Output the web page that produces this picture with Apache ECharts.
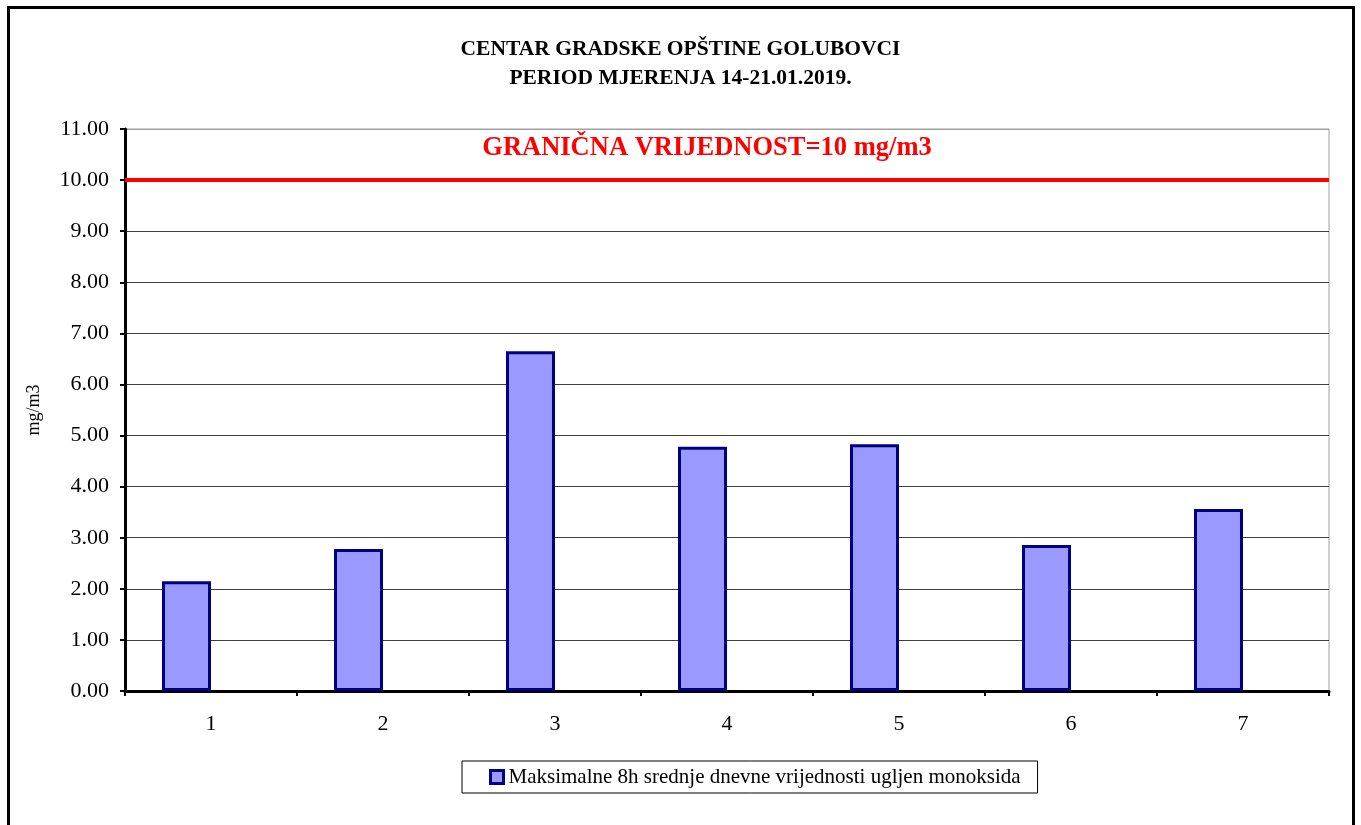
<!DOCTYPE html>
<html>
<head>
<meta charset="utf-8">
<script src="https://cdn.jsdelivr.net/npm/echarts@6/dist/echarts.min.js"></script>
<style>
    html, body { margin: 0; padding: 0; background: #fff; }
    #chart { width: 1361px; height: 825px; }
</style>
</head>
<body>
<div id="chart"></div>
<script>
    var categories = ['1', '2', '3', '4', '5', '6', '7'];
    var coValues = [2.15, 2.78, 6.65, 4.78, 4.83, 2.86, 3.56];
    var emptyValues = [null, null, null, null, null, null, null];
    var limitValue = 10;
    var seriesName = 'Maksimalne 8h srednje dnevne vrijednosti ugljen monoksida';
    var titleLines = ['CENTAR GRADSKE OPŠTINE GOLUBOVCI', 'PERIOD MJERENJA 14-21.01.2019.'];
    var limitLabel = 'GRANIČNA VRIJEDNOST=10 mg/m3';

    var serif = '"Liberation Serif", "DejaVu Serif", serif';

    // gornja linija mreže je siva, ostale tamne
    var gridColors = [];
    for (var i = 0; i <= 11; i++) {
        gridColors.push(i === 11 ? '#a0a0a0' : '#404040');
    }

    var chart = echarts.init(document.getElementById('chart'));

    chart.setOption({
        animation: false,
        title: {
            text: titleLines.join('\n'),
            left: 'center',
            top: 30,
            textStyle: {
                fontFamily: serif,
                fontSize: 21.5,
                fontWeight: 'bold',
                color: '#000',
                lineHeight: 29
            }
        },
        graphic: [{
            type: 'rect',
            silent: true,
            shape: { x: 8.5, y: 7.5, width: 1345, height: 900 },
            style: { fill: 'none', stroke: '#000', lineWidth: 3 }
        }],
        legend: {
            data: [seriesName],
            left: 462,
            top: 761,
            padding: [5, 17, 5, 27],
            borderColor: '#000',
            borderWidth: 1,
            itemWidth: 13,
            itemHeight: 13,
            icon: 'rect',
            itemStyle: { borderWidth: 3, borderColor: '#000080' },
            textStyle: {
                fontFamily: serif,
                fontSize: 21,
                lineHeight: 22,
                color: '#000'
            }
        },
        grid: {
            left: 125,
            right: 32,
            top: 129,
            bottom: 134,
            show: true,
            borderColor: '#a0a0a0',
            borderWidth: 1
        },
        xAxis: {
            type: 'category',
            data: categories,
            boundaryGap: true,
            axisLine: { lineStyle: { color: '#000', width: 3 } },
            axisTick: { show: true, length: 5, lineStyle: { color: '#000', width: 2 } },
            axisLabel: {
                fontFamily: serif,
                fontSize: 22,
                color: '#000',
                margin: 22
            }
        },
        yAxis: {
            type: 'value',
            min: 0,
            max: 11,
            interval: 1,
            name: 'mg/m3',
            nameLocation: 'middle',
            nameGap: 82,
            nameRotate: 90,
            nameTextStyle: {
                fontFamily: serif,
                fontSize: 18,
                color: '#000'
            },
            axisLine: { show: true, lineStyle: { color: '#000', width: 3 } },
            axisTick: { show: true, length: 5, lineStyle: { color: '#000', width: 2 } },
            axisLabel: {
                fontFamily: serif,
                fontSize: 22,
                color: '#000',
                margin: 16,
                formatter: function (v) { return v.toFixed(2); }
            },
            splitLine: { show: true, lineStyle: { color: gridColors, width: 1 } }
        },
        series: [{
            name: seriesName,
            type: 'bar',
            data: coValues,
            barWidth: 49,
            barGap: '0%',
            itemStyle: {
                color: '#9999ff',
                borderColor: '#000080',
                borderWidth: 3
            },
            markLine: {
                silent: true,
                symbol: 'none',
                data: [{ yAxis: limitValue }],
                lineStyle: { color: '#ff0000', width: 4, type: 'solid' },
                label: {
                    show: true,
                    position: 'insideMiddleTop',
                    distance: 18,
                    offset: [-20, 0],
                    formatter: limitLabel,
                    fontFamily: serif,
                    fontSize: 26.5,
                    fontWeight: 'bold',
                    color: '#ff0000'
                }
            }
        }, {
            // prazna serija, samo da stupci stoje lijevo kao u originalu
            name: 'prazno',
            type: 'bar',
            data: emptyValues,
            barWidth: 49,
            barGap: '0%'
        }]
    });
</script>
</body>
</html>
